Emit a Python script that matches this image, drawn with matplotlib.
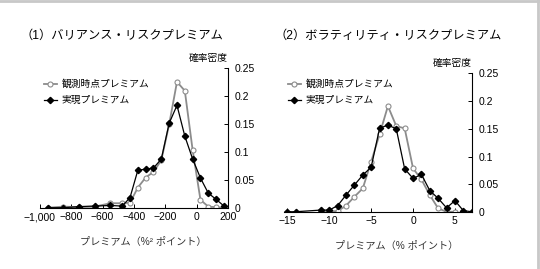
import matplotlib.pyplot as plt
from matplotlib.lines import Line2D

plt.rcParams['font.family'] = ['Liberation Sans', 'Noto Sans CJK JP', 'DejaVu Sans']

# (1) variance risk premium
vrp_x = [-950, -850, -750, -650, -550, -475, -425, -375, -325, -275,
         -225, -175, -125, -75, -25, 25, 75, 125, 175]
vrp_obs = [0.001, 0.003, 0.002, 0.003, 0.009, 0.009, 0.010, 0.037, 0.055, 0.065,
           0.086, 0.150, 0.226, 0.210, 0.104, 0.015, 0.003, 0.002, 0.001]
vrp_real = [0.001, 0.001, 0.003, 0.004, 0.005, 0.004, 0.019, 0.068, 0.070, 0.072,
            0.088, 0.152, 0.184, 0.129, 0.088, 0.054, 0.027, 0.016, 0.004]

# (2) volatility risk premium
vol_x_real = [-15, -14, -11, -10, -9, -8, -7, -6, -5, -4, -3, -2, -1, 0, 1, 2, 3, 4, 5, 6, 7]
vol_real = [0.001, 0.001, 0.004, 0.004, 0.012, 0.031, 0.049, 0.067, 0.081, 0.151, 0.157,
            0.150, 0.078, 0.061, 0.068, 0.039, 0.025, 0.008, 0.021, 0.003, 0.001]
vol_x_obs = [-11, -10, -9, -8, -7, -6, -5, -4, -3, -2, -1, 0, 1, 2, 3, 4, 5]
vol_obs = [0.002, 0.002, 0.002, 0.012, 0.028, 0.043, 0.091, 0.140, 0.191, 0.155,
           0.151, 0.079, 0.059, 0.031, 0.007, 0.001, 0.001]

titles = ['（1）バリアンス・リスクプレミアム', '（2）ボラティリティ・リスクプレミアム']
xlabels = ['プレミアム（%² ポイント）', 'プレミアム（% ポイント）']
legend_names = ['観測時点プレミアム', '実現プレミアム']
yticks = [0, 0.05, 0.1, 0.15, 0.2, 0.25]
ytick_labels = ['0', '0.05', '0.1', '0.15', '0.2', '0.25']

gray = '#8c8c8c'
fig = plt.figure(figsize=(5.4, 2.69), dpi=100)

# thin frame lines (top / right) like the source image
fig.add_artist(Line2D([0, 1], [0.995, 0.995], color='#c8c8c8', lw=2, transform=fig.transFigure))
fig.add_artist(Line2D([0.997, 0.997], [0, 1], color='#c8c8c8', lw=2, transform=fig.transFigure))

ax1 = fig.add_axes([0.074, 0.2257, 0.348, 0.520])
ax2 = fig.add_axes([0.526, 0.2108, 0.3475, 0.5167])

panels = [
    (ax1, vrp_x, vrp_obs, vrp_x, vrp_real, (-1000, 200),
     [-1000, -800, -600, -400, -200, 0, 200],
     ['−1,000', '−800', '−600', '−400', '−200', '0', '200'], (-0.01, 0.965)),
    (ax2, vol_x_obs, vol_obs, vol_x_real, vol_real, (-15.4, 7),
     [-15, -10, -5, 0, 5],
     ['−15', '−10', '−5', '0', '5'], (-0.01, 1.0)),
]

for i, (ax, xo, yo, xr, yr, xlim, xt, xtl, lpos) in enumerate(panels):
    ax.plot(xo, yo, color=gray, lw=1.3, marker='o', ms=3.6,
            mfc='white', mec=gray, mew=0.8, label=legend_names[0], zorder=2)
    ax.plot(xr, yr, color='black', lw=0.9, marker='D', ms=3.2,
            mfc='black', mec='black', label=legend_names[1], zorder=3)
    ax.set_xlim(*xlim)
    ax.set_ylim(0, 0.25)
    ax.set_xticks(xt)
    ax.set_xticklabels(xtl)
    ax.set_yticks(yticks)
    ax.set_yticklabels(ytick_labels)
    ax.yaxis.tick_right()
    ax.spines['top'].set_visible(False)
    ax.spines['left'].set_visible(False)
    for s in ('bottom', 'right'):
        ax.spines[s].set_linewidth(0.8)
    ax.tick_params(direction='in', length=3, width=0.7, labelsize=7.5, pad=3)
    ax.tick_params(axis='y', pad=5)
    ax.text(1.0, 1.04, '確率密度', transform=ax.transAxes, ha='right', va='bottom', fontsize=7)
    ax.set_xlabel(xlabels[i], fontsize=7.3, color='#333333')
    ax.legend(loc='upper left', bbox_to_anchor=lpos, frameon=False, fontsize=7,
              handlelength=1.3, handletextpad=0.5, labelspacing=0.6, borderaxespad=0.2)

ax1.xaxis.set_label_coords(0.55, -0.2)
ax2.xaxis.set_label_coords(0.6, -0.2)

fig.text(0.038, 0.868, titles[0], fontsize=8.8, va='center', ha='left')
fig.text(0.508, 0.868, titles[1], fontsize=8.8, va='center', ha='left')

fig.savefig('out.png', dpi=100)
